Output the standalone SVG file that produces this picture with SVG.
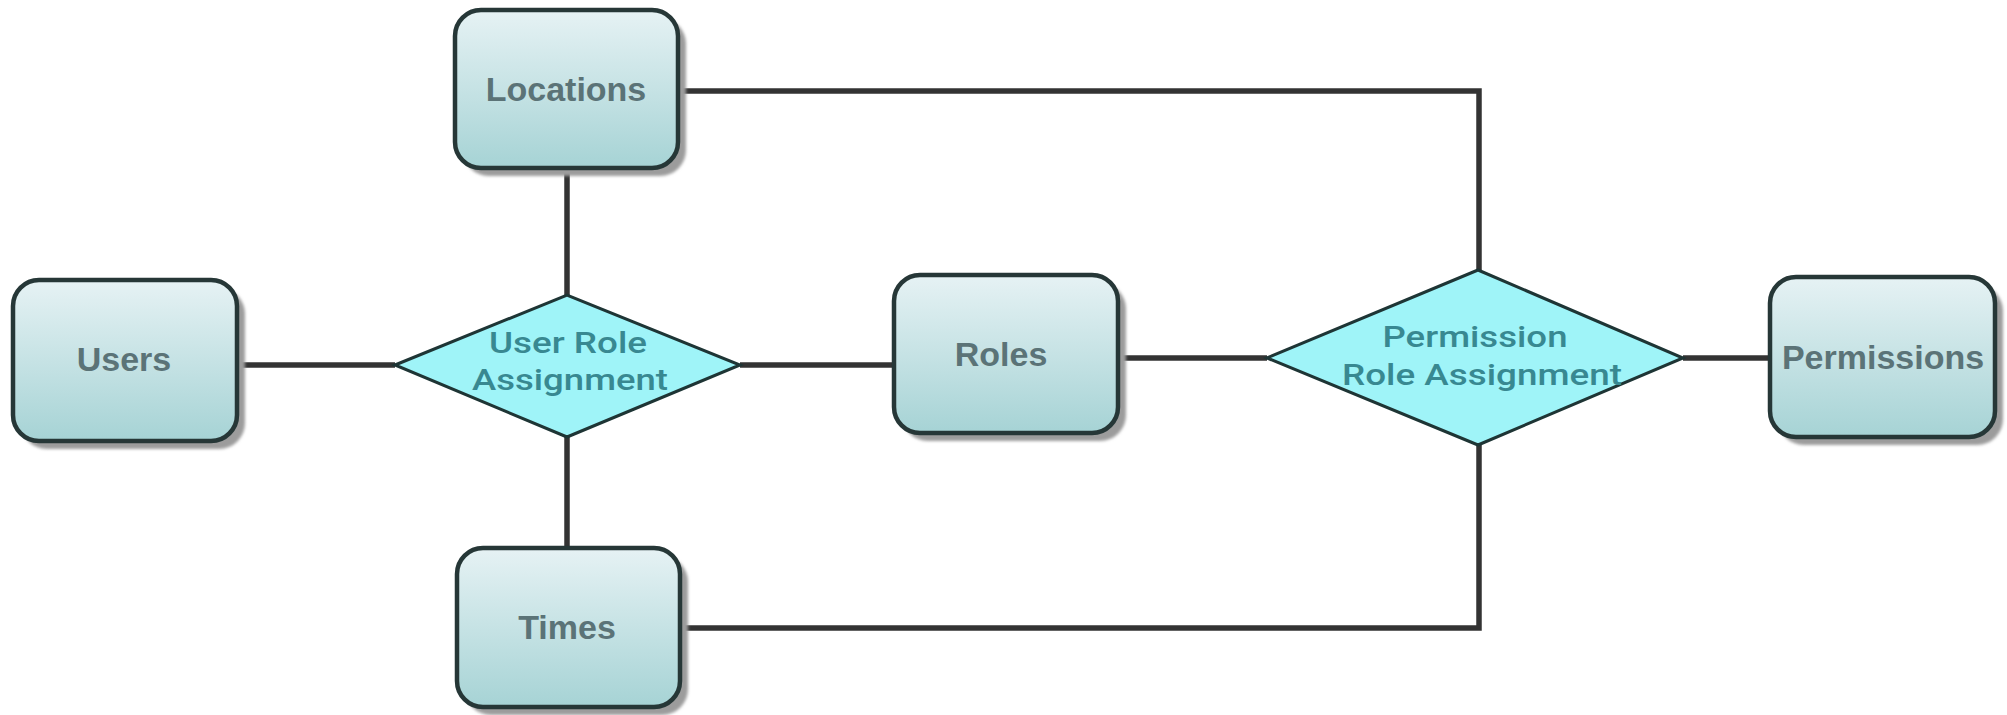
<svg xmlns="http://www.w3.org/2000/svg" width="2007" height="715" viewBox="0 0 2007 715">
  <defs>
    <linearGradient id="boxFill" x1="0" y1="0" x2="0" y2="1">
      <stop offset="0" stop-color="#e6f2f4"/>
      <stop offset="1" stop-color="#a6d3d5"/>
    </linearGradient>
    <filter id="blur" x="-10%" y="-10%" width="120%" height="120%">
      <feGaussianBlur stdDeviation="1.5"/>
    </filter>
  </defs>
  <style>
    .shadow { fill: #9c9c9c; filter: url(#blur); }
    .box { fill: url(#boxFill); stroke: #263737; stroke-width: 4.5; }
    .diamond { fill: #9ff4f8; stroke: #1e3535; stroke-width: 3; }
    .blabel { font-family: "Liberation Sans", Arial, sans-serif; font-weight: bold; font-size: 34px; fill: #5b7377; text-anchor: middle; }
    .dlabel { font-family: Roboto, "Liberation Sans", Arial, sans-serif; font-weight: 500; font-size: 30px; fill: #388891; text-anchor: middle; }
    .conn { fill: none; stroke: #333333; stroke-width: 5.5; }
  </style>
  <rect width="2007" height="715" fill="#ffffff"/>

  <g id="connectors">
    <line class="conn" x1="237" y1="365" x2="395" y2="365"/>
    <line class="conn" x1="740" y1="365" x2="894" y2="365"/>
    <line class="conn" x1="1118" y1="358" x2="1267" y2="358"/>
    <line class="conn" x1="1683" y1="358" x2="1770" y2="358"/>
    <line class="conn" x1="567" y1="168" x2="567" y2="295"/>
    <line class="conn" x1="567" y1="437" x2="567" y2="548"/>
    <polyline class="conn" points="678,91 1479,91 1479,270"/>
    <polyline class="conn" points="680,628 1479,628 1479,445"/>
  </g>

  <g id="locations">
    <rect class="shadow" x="463" y="18" width="223" height="158" rx="26"/>
    <rect class="box" x="455" y="10" width="223" height="158" rx="26"/>
    <text class="blabel" x="566" y="101">Locations</text>
  </g>

  <g id="users">
    <rect class="shadow" x="21" y="288" width="224" height="161" rx="26"/>
    <rect class="box" x="13" y="280" width="224" height="161" rx="26"/>
    <text class="blabel" x="124" y="371">Users</text>
  </g>

  <g id="roles">
    <rect class="shadow" x="902" y="283" width="224" height="158" rx="26"/>
    <rect class="box" x="894" y="275" width="224" height="158" rx="26"/>
    <text class="blabel" x="1001" y="366">Roles</text>
  </g>

  <g id="permissions">
    <rect class="shadow" x="1778" y="285" width="225" height="160" rx="26"/>
    <rect class="box" x="1770" y="277" width="225" height="160" rx="26"/>
    <text class="blabel" x="1883" y="369">Permissions</text>
  </g>

  <g id="times">
    <rect class="shadow" x="465" y="556" width="223" height="159" rx="26"/>
    <rect class="box" x="457" y="548" width="223" height="159" rx="26"/>
    <text class="blabel" x="567" y="639">Times</text>
  </g>

  <g id="user-role-assignment">
    <polygon class="diamond" points="395,365 567,295 740,365 567,437"/>
    <text class="dlabel" x="568" y="353" textLength="158" lengthAdjust="spacingAndGlyphs">User Role</text>
    <text class="dlabel" x="570" y="390" textLength="196" lengthAdjust="spacingAndGlyphs">Assignment</text>
  </g>

  <g id="permission-role-assignment">
    <polygon class="diamond" points="1267,358 1478,270 1683,358 1478,445"/>
    <text class="dlabel" x="1475" y="347" textLength="185" lengthAdjust="spacingAndGlyphs">Permission</text>
    <text class="dlabel" x="1482" y="385" textLength="280" lengthAdjust="spacingAndGlyphs">Role Assignment</text>
  </g>
</svg>
